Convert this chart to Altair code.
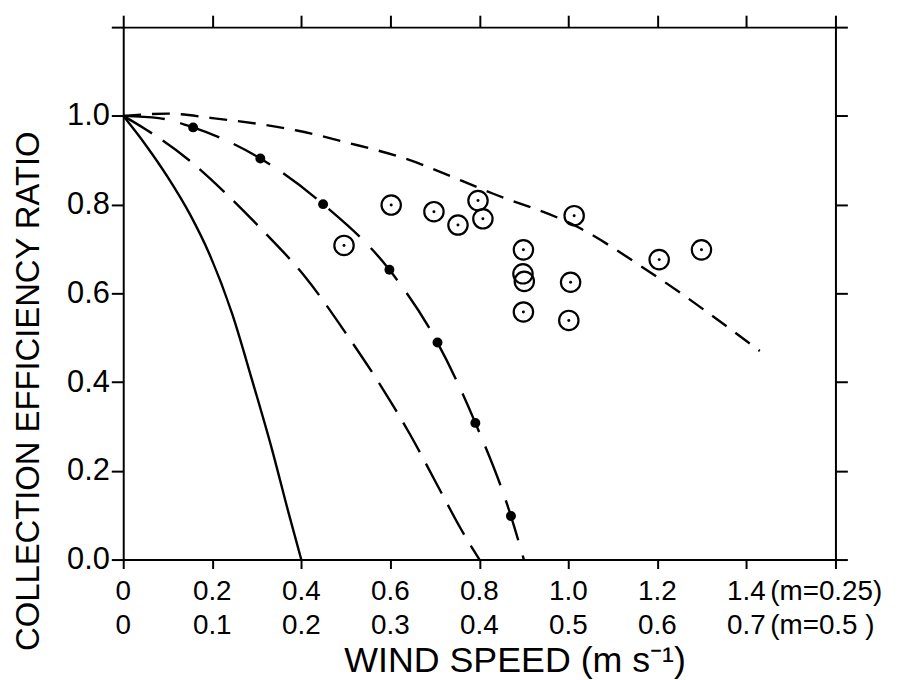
import altair as alt
import pandas as pd

# ---------------- data ----------------
# solid curve
solid_x = [0.0, 0.05, 0.10, 0.15, 0.193, 0.245, 0.289, 0.334, 0.371, 0.40]
solid_y = [1.0, 0.935, 0.862, 0.778, 0.690, 0.553, 0.406, 0.249, 0.107, 0.0]
# long-dashed curve
ldash_x = [0.0, 0.05, 0.148, 0.238, 0.312, 0.408, 0.505, 0.579, 0.646, 0.706, 0.758, 0.80]
ldash_y = [1.0, 0.97, 0.900, 0.818, 0.743, 0.638, 0.503, 0.391, 0.279, 0.167, 0.070, 0.0]
# dash curve through the filled dots
ddot_x = [0.0, 0.08, 0.157, 0.308, 0.449, 0.598, 0.706, 0.791, 0.871, 0.90]
ddot_y = [1.0, 0.995, 0.974, 0.904, 0.801, 0.653, 0.489, 0.308, 0.098, 0.0]
# short-dashed upper curve
sdash_x = [0.0, 0.1, 0.2, 0.39, 0.51, 0.62, 0.83, 1.02, 1.18, 1.43]
sdash_y = [1.0, 1.005, 0.995, 0.967, 0.938, 0.908, 0.825, 0.750, 0.650, 0.470]
# filled dots
dots_x = [0.157, 0.308, 0.449, 0.598, 0.706, 0.791, 0.871]
dots_y = [0.974, 0.904, 0.801, 0.653, 0.489, 0.308, 0.098]
# observations (open circles with centre dot)
obs_x = [0.496, 0.602, 0.698, 0.752, 0.797, 0.808, 0.899, 0.898, 0.901, 0.899, 1.013, 1.005, 1.001, 1.204, 1.299]
obs_y = [0.708, 0.799, 0.784, 0.754, 0.809, 0.768, 0.698, 0.644, 0.627, 0.558, 0.775, 0.625, 0.539, 0.676, 0.698]
obs_dot = [1, 1, 1, 1, 1, 1, 1, 0, 0, 1, 1, 1, 1, 1, 1]

# axis tick labels
x_ticks = [0.0, 0.2, 0.4, 0.6, 0.8, 1.0, 1.2, 1.4, 1.6]
y_ticks = [0.0, 0.2, 0.4, 0.6, 0.8, 1.0, 1.2]
row1_pos = [0.0, 0.2, 0.4, 0.6, 0.8, 1.0, 1.2, 1.4]
row1_lab = ["0", "0.2", "0.4", "0.6", "0.8", "1.0", "1.2", "1.4"]
row2_lab = ["0", "0.1", "0.2", "0.3", "0.4", "0.5", "0.6", "0.7"]
row1_note = "(m=0.25)"
row2_note = "(m=0.5 )"

FONT = "'Liberation Sans', Arial, sans-serif"
W, H = 717, 536

xs = alt.Scale(domain=[0, 1.6], nice=False, zero=False)
ys = alt.Scale(domain=[0, 1.2], nice=False, zero=False)


def curve(xv, yv, dash=None):
    df = pd.DataFrame({"x": xv, "y": yv})
    kw = dict(color="black", strokeWidth=2.4, interpolate="monotone")
    if dash:
        kw["strokeDash"] = dash
    return alt.Chart(df).mark_line(**kw).encode(
        x=alt.X("x:Q", scale=xs, axis=None),
        y=alt.Y("y:Q", scale=ys, axis=None),
    )


# main layer carrying the bottom / left axes
solid = alt.Chart(pd.DataFrame({"x": solid_x, "y": solid_y})).mark_line(
    color="black", strokeWidth=2.4, interpolate="monotone"
).encode(
    x=alt.X("x:Q", scale=xs, axis=alt.Axis(
        values=x_ticks, labels=False, tickSize=9, tickWidth=2, domainWidth=2,
        domainColor="black", tickColor="black", grid=False,
        title="WIND SPEED (m s⁻¹)", titleFont=FONT, titleFontSize=36,
        titleFontWeight="normal", titleColor="black", titleX=394, titleY=113,
        titleBaseline="alphabetic", titleAlign="center", orient="bottom")),
    y=alt.Y("y:Q", scale=ys, axis=alt.Axis(
        values=y_ticks, tickSize=12, tickWidth=2, domainWidth=2,
        domainColor="black", tickColor="black", grid=False,
        labelExpr="datum.value > 1.1 ? '' : format(datum.value, '.1f')",
        labelFont=FONT, labelFontSize=31, labelColor="black", labelPadding=2,
        labelBaseline="middle",
        title="COLLECTION EFFICIENCY RATIO", titleFont=FONT, titleFontSize=33,
        titleFontWeight="normal", titleColor="black", titleX=-85, titleY=366,
        titleAngle=270, titleBaseline="alphabetic", titleAlign="center", orient="left")),
)

ldash = curve(ldash_x, ldash_y, [34, 13])
ddot = curve(ddot_x, ddot_y, [42, 16])
sdash = curve(sdash_x, sdash_y, [18, 11])

dots = alt.Chart(pd.DataFrame({"x": dots_x, "y": dots_y})).mark_point(
    shape="circle", filled=True, color="black", opacity=1, size=100
).encode(
    x=alt.X("x:Q", scale=xs, axis=None),
    y=alt.Y("y:Q", scale=ys, axis=None),
)

obs_df = pd.DataFrame({"x": obs_x, "y": obs_y, "d": obs_dot})
# observations layer carrying the top / right axes (ticks only)
obs = alt.Chart(obs_df).mark_point(
    shape="circle", filled=False, color="black", strokeWidth=2.2, opacity=1, size=380
).encode(
    x=alt.X("x:Q", scale=xs, axis=alt.Axis(
        orient="top", values=x_ticks, labels=False, tickSize=12, tickWidth=2,
        domainWidth=2, domainColor="black", tickColor="black", grid=False, title=None)),
    y=alt.Y("y:Q", scale=ys, axis=alt.Axis(
        orient="right", values=y_ticks, labels=False, tickSize=12, tickWidth=2,
        domainWidth=2, domainColor="black", tickColor="black", grid=False, title=None)),
)
obs_center = alt.Chart(obs_df).transform_filter("datum.d == 1").mark_point(
    shape="circle", filled=True, color="black", opacity=1, size=9
).encode(
    x=alt.X("x:Q", scale=xs, axis=None),
    y=alt.Y("y:Q", scale=ys, axis=None),
)

lab_df = pd.DataFrame({"x": row1_pos, "r1": row1_lab, "r2": row2_lab})
row1 = alt.Chart(lab_df).mark_text(
    font=FONT, fontSize=28, color="black", baseline="middle", align="center"
).encode(
    x=alt.X("x:Q", scale=xs, axis=None), y=alt.value(H + 33), text="r1:N"
)
row2 = alt.Chart(lab_df).mark_text(
    font=FONT, fontSize=28, color="black", baseline="middle", align="center"
).encode(
    x=alt.X("x:Q", scale=xs, axis=None), y=alt.value(H + 67), text="r2:N"
)
note_df = pd.DataFrame({"x": [1.4, 1.4], "t": [row1_note, row2_note], "yy": [H + 33, H + 67]})
notes = alt.Chart(note_df).mark_text(
    font=FONT, fontSize=28, color="black", baseline="middle", align="left", dx=24
).encode(
    x=alt.X("x:Q", scale=xs, axis=None), y=alt.Y("yy:Q", scale=None), text="t:N"
)

chart = alt.layer(
    solid, ldash, ddot, sdash, dots, obs, obs_center, row1, row2, notes
).resolve_axis(x="independent", y="independent").properties(
    width=W, height=H,
    autosize=alt.AutoSizeParams(type="none"),
    padding={"left": 116, "top": 17, "right": 68, "bottom": 119},
    background="white",
).configure_view(stroke=None)

chart.save("out.html", embed_options={"renderer": "svg", "actions": False})
